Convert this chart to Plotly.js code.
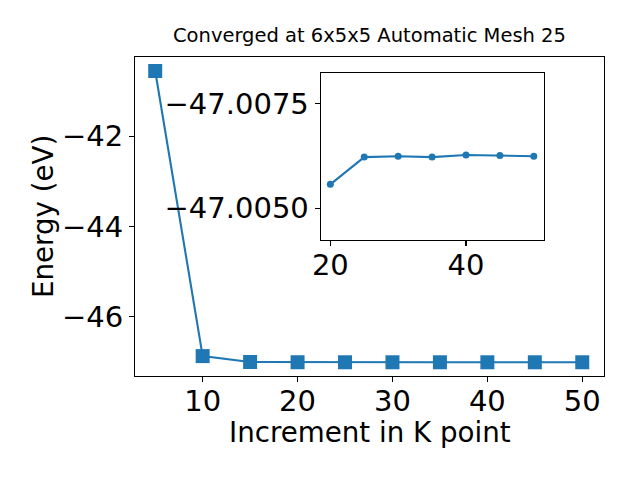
<!DOCTYPE html>
<html>
<head>
<meta charset="utf-8">
<script src="https://cdn.plot.ly/plotly-3.0.1.min.js"></script>
<style>html,body{margin:0;padding:0;background:#fff;}#chart{width:640px;height:480px;}</style>
</head>
<body>
<div id="chart"></div>
<script>
// Main series
var kpoints = [5, 10, 15, 20, 25, 30, 35, 40, 45, 50];
var energies = [-40.56, -46.87, -47.0, -47.00557, -47.00622, -47.00624, -47.00622, -47.00627, -47.00626, -47.00624];
// Inset series
var insetK = [20, 25, 30, 35, 40, 45, 50];
var insetE = [-47.00557, -47.00622, -47.00624, -47.00622, -47.00627, -47.00626, -47.00624];
var mainXTicks = [10, 20, 30, 40, 50];
var mainYTicks = [-46, -44, -42];
var insetXTicks = [20, 40];
var insetYTicks = [-47.0075, -47.0050];

var blue = '#1f77b4';
var font = 'DejaVu Sans, sans-serif';
var tickFont = {family: font, size: 29, color: '#000'};

var traces = [
  {x: kpoints, y: energies, type: 'scatter', mode: 'lines+markers',
   line: {color: blue, width: 2.1}, marker: {symbol: 'square', size: 14, color: blue},
   xaxis: 'x', yaxis: 'y', hoverinfo: 'none'},
  {x: insetK, y: insetE, type: 'scatter', mode: 'lines+markers',
   line: {color: blue, width: 2.1}, marker: {symbol: 'circle', size: 7, color: blue},
   xaxis: 'x2', yaxis: 'y2', hoverinfo: 'none'}
];

var axCommon = {showgrid: false, zeroline: false, showline: true, mirror: true,
  linecolor: '#000', linewidth: 1.1, ticks: 'outside', ticklen: 5, tickwidth: 1.1,
  tickcolor: '#000', tickfont: tickFont};

var layout = {
  width: 640, height: 480,
  margin: {l: 0, r: 0, t: 0, b: 0},
  paper_bgcolor: '#fff', plot_bgcolor: '#fff',
  showlegend: false,
  xaxis: Object.assign({}, axCommon, {domain: [135/640, 604/640], range: [2.87, 52.29],
    tickmode: 'array', tickvals: mainXTicks, anchor: 'y', ticklabelstandoff: -6}),
  yaxis: Object.assign({}, axCommon, {domain: [1 - 376/480, 1 - 57/480], range: [-47.31, -40.25],
    tickmode: 'array', tickvals: mainYTicks, anchor: 'x'}),
  xaxis2: Object.assign({}, axCommon, {domain: [320.7/640, 544.3/640], range: [18.58, 51.55],
    tickmode: 'array', tickvals: insetXTicks, anchor: 'y2', ticklabelstandoff: -6}),
  yaxis2: Object.assign({}, axCommon, {domain: [1 - 240/480, 1 - 72.7/480], range: [-47.004245, -47.00823],
    tickmode: 'array', tickvals: insetYTicks, tickformat: '.4f', anchor: 'x2'}),
  annotations: [
    {text: 'Converged at 6x5x5 Automatic Mesh 25', xref: 'paper', yref: 'paper',
     x: 369.5/640, y: 1 - 49/480, xanchor: 'center', yanchor: 'bottom', showarrow: false,
     font: {family: font, size: 19.5, color: '#000'}},
    {text: 'Increment in K point', xref: 'paper', yref: 'paper',
     x: 369.5/640, y: 1 - 432/480, xanchor: 'center', yanchor: 'middle', showarrow: false,
     font: {family: font, size: 27.7, color: '#000'}},
    {text: 'Energy (eV)', xref: 'paper', yref: 'paper', textangle: -90,
     x: 43.5/640, y: 1 - 216.5/480, xanchor: 'center', yanchor: 'middle', showarrow: false,
     font: {family: font, size: 27.7, color: '#000'}}
  ]
};

Plotly.newPlot('chart', traces, layout, {staticPlot: true});
</script>
</body>
</html>
